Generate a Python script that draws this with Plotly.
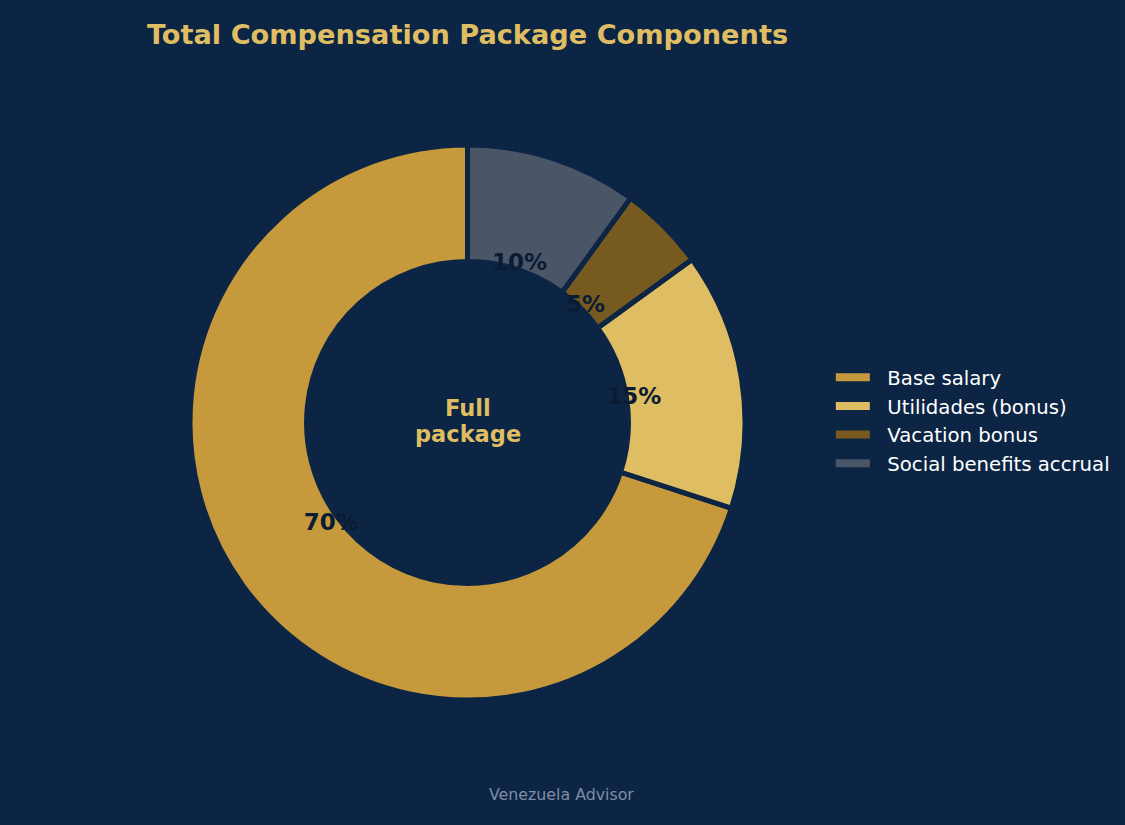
import plotly.graph_objects as go

labels = ["Base salary", "Utilidades (bonus)", "Vacation bonus", "Social benefits accrual"]
shares = [70, 15, 5, 10]
colors = ["#c69a3c", "#dfbd63", "#765a20", "#4a5568"]

bg = "#0c2544"
gold = "#dfbd63"
clear = ["rgba(0,0,0,0)"] * len(shares)

# narrow slices need their own (thinner) helper ring so the label stays near the hole
wide_txt = [f"<b>{v}%</b>" if v >= 8 else "" for v in shares]
narrow_txt = [f"<b>{v}%</b>" if v < 8 else "" for v in shares]

fig = go.Figure()

# the ring itself
fig.add_trace(go.Pie(
    labels=labels,
    values=shares,
    hole=0.58,
    sort=False,
    direction="counterclockwise",
    rotation=108,
    marker=dict(colors=colors, line=dict(color=bg, width=5)),
    textinfo="none",
    showlegend=False,
    hoverinfo="label+percent",
))

# invisible rings used only to put the % labels along the inner edge
label_rings = [
    (wide_txt, 0.53, [0.1033, 0.8967]),
    (narrow_txt, 0.73, [0.1523, 0.8477]),
]
for txt, h, dom in label_rings:
    fig.add_trace(go.Pie(
        labels=labels,
        values=shares,
        text=txt,
        hole=h,
        sort=False,
        direction="counterclockwise",
        rotation=108,
        domain=dict(x=dom, y=dom),
        marker=dict(colors=clear, line=dict(width=0)),
        textinfo="text",
        textposition="inside",
        insidetextorientation="horizontal",
        textfont=dict(family="DejaVu Sans", size=23, color="#0a1b33"),
        showlegend=False,
        hoverinfo="skip",
    ))

# legend entries
nb = "\u00a0\u00a0"
for name, c in zip(labels, colors):
    fig.add_trace(go.Scatter(x=[None], y=[None], mode="lines", name=nb + name,
                             line=dict(color=c, width=8)))

fig.update_layout(
    title=dict(text="<b>Total Compensation Package Components</b>", x=0.5, xanchor="center",
               xref="paper", y=0.958, yanchor="middle",
               font=dict(family="DejaVu Sans", size=27.2, color=gold)),
    paper_bgcolor=bg,
    plot_bgcolor=bg,
    font=dict(family="DejaVu Sans", color="white"),
    width=1125,
    height=825,
    margin=dict(l=190, r=380, t=145, b=125, autoexpand=False),
    xaxis=dict(visible=False),
    yaxis=dict(visible=False),
    uniformtext=dict(minsize=23, mode="show"),
    legend=dict(font=dict(size=19.7, color="white"), x=1.1546, y=0.5036, yanchor="middle",
                xanchor="left", itemwidth=34, bgcolor="rgba(0,0,0,0)"),
    annotations=[
        dict(text="<b>Full</b>", x=0.5, y=0.5, xref="paper", yref="paper", yshift=15,
             showarrow=False, font=dict(family="DejaVu Sans", size=22.5, color=gold)),
        dict(text="<b>package</b>", x=0.5, y=0.5, xref="paper", yref="paper", yshift=-11,
             showarrow=False, font=dict(family="DejaVu Sans", size=22.5, color=gold)),
        dict(text="Venezuela Advisor", x=0.670, y=-0.171, xref="paper", yref="paper",
             xanchor="center", yanchor="middle", showarrow=False,
             font=dict(family="DejaVu Sans", size=15.8, color="#7f8ea5")),
    ],
)

fig.write_html("out.html", config={"displayModeBar": False},
               post_script="document.body.style.margin='0';")
